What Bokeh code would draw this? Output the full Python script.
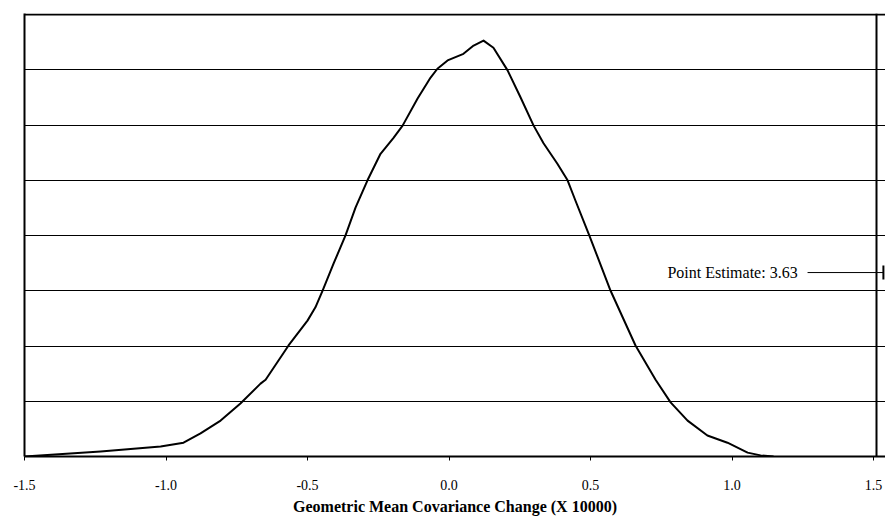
from bokeh.plotting import figure
from bokeh.models import (FixedTicker, PrintfTickFormatter, Span, Arrow, TeeHead,
                          Label, Range1d)
from bokeh.embed import file_html
from bokeh.resources import INLINE

# ---- data ----
x_vals = [-1.5, -1.231, -1.019, -0.938, -0.878, -0.807, -0.737, -0.666, -0.648,
          -0.567, -0.500, -0.472, -0.447, -0.408, -0.366, -0.330, -0.288, -0.242,
          -0.196, -0.164, -0.111, -0.065, -0.041, -0.005, 0.051, 0.087, 0.122,
          0.157, 0.207, 0.253, 0.299, 0.334, 0.383, 0.419, 0.447, 0.496, 0.571,
          0.659, 0.730, 0.783, 0.843, 0.913, 0.984, 1.055, 1.101, 1.147]
density = [0.0, 0.09, 0.18, 0.25, 0.42, 0.65, 0.96, 1.32, 1.39,
           2.01, 2.46, 2.70, 3.00, 3.49, 4.00, 4.51, 5.00, 5.48,
           5.77, 5.99, 6.48, 6.86, 7.02, 7.17, 7.29, 7.44, 7.53,
           7.40, 6.99, 6.50, 5.99, 5.67, 5.30, 5.00, 4.63, 4.00, 3.00,
           2.01, 1.39, 0.98, 0.65, 0.38, 0.25, 0.07, 0.02, 0.0]
x_ticks = [-1.5, -1.0, -0.5, 0.0, 0.5, 1.0, 1.5]
grid_levels = [1, 2, 3, 4, 5, 6, 7]
point_estimate_text = "Point Estimate: 3.63"
x_title = "Geometric Mean Covariance Change (X 10000)"

FONT = "'Liberation Serif', 'Times New Roman', serif"

p = figure(width=885, height=517, output_backend="svg", toolbar_location=None,
           x_range=Range1d(-1.5, 1.5424), y_range=Range1d(0, 8.02),
           min_border_left=24, min_border_right=0, min_border_top=13,
           min_border_bottom=61, background_fill_color="white",
           border_fill_color="white")
p.outline_line_color = None

# grid
p.xgrid.visible = False
p.ygrid.ticker = FixedTicker(ticks=grid_levels)
p.ygrid.grid_line_color = "black"
p.ygrid.grid_line_width = 1
p.ygrid.grid_line_alpha = 1.0

# x axis
p.xaxis.ticker = FixedTicker(ticks=x_ticks)
p.xaxis.formatter = PrintfTickFormatter(format="%.1f")
p.xaxis.axis_line_width = 2
p.xaxis.axis_line_color = "black"
p.xaxis.major_tick_in = 0
p.xaxis.major_tick_out = 4
p.xaxis.minor_tick_line_color = None
p.xaxis.major_label_standoff = 19
p.xaxis.major_label_text_font = FONT
p.xaxis.major_label_text_font_size = "14px"
p.xaxis.major_label_text_color = "black"
p.xaxis.axis_label = x_title
p.xaxis.axis_label_text_font = FONT
p.xaxis.axis_label_text_font_style = "bold"
p.xaxis.axis_label_text_font_size = "16px"
p.xaxis.axis_label_text_color = "black"
p.xaxis.axis_label_standoff = 5

# y axis: bare line only
p.yaxis.ticker = FixedTicker(ticks=[])
p.yaxis.axis_line_width = 2
p.yaxis.axis_line_color = "black"
p.yaxis.major_tick_out = 0
p.yaxis.major_tick_in = 0
p.yaxis.minor_tick_line_color = None
p.yaxis.major_label_text_font_size = "0px"

# top and right borders
p.add_layout(Span(location=8.0, dimension="width", line_color="black", line_width=2))
p.add_layout(Span(location=1.5106, dimension="height", line_color="black", line_width=2))

# density curve
p.line(x_vals, density, line_color="black", line_width=2, line_join="round")

# point estimate pointer
p.add_layout(Arrow(x_start=1.267, y_start=3.33, x_end=1.535, y_end=3.33,
                   line_color="black", line_width=1,
                   end=TeeHead(size=14, line_width=2, line_color="black")))
p.add_layout(Label(x=1.232, y=3.33, text=point_estimate_text, text_align="right",
                   text_baseline="middle", text_font=FONT, text_font_size="16px",
                   text_color="black"))

open("out.html", "w").write(file_html(p, INLINE))
